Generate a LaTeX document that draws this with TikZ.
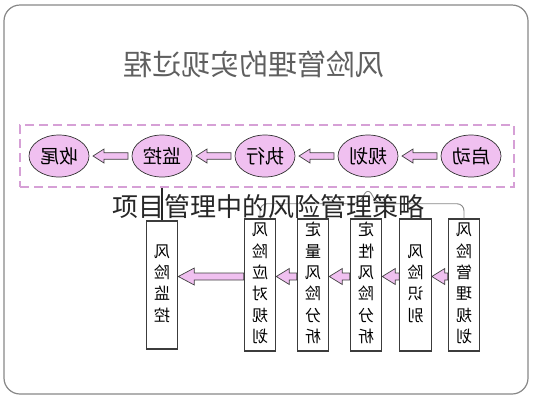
\documentclass[tikz,border=0pt]{standalone}
\usepackage{fontspec}
\newfontfamily\cjk{Noto Sans CJK SC}
\usetikzlibrary{positioning, calc, fit, shapes.geometric}

\definecolor{phasepink}{RGB}{240,192,240}
\definecolor{dashpink}{RGB}{214,160,214}
\definecolor{framegray}{RGB}{135,135,135}
\definecolor{titlegray}{RGB}{95,95,95}
\definecolor{boxgray}{RGB}{60,60,60}

\newcommand{\mir}[1]{\reflectbox{#1}}
\newcommand{\vtext}[1]{\reflectbox{\begin{tabular}{@{}c@{}}#1\end{tabular}}}
% [dy] tail, tip, head length, head half width, shaft half width
\newcommand{\fatarrow}[6][0]{%
  \draw[fatarr] ($(#3)+(0,#1)$) -- ++(#4,#5) |- ($(#2)+(0,#1+#6)$)
    -- ($(#2)+(0,#1-#6)$) -| ($(#3)+(#4,#1-#5)$) -- cycle;
}

\begin{document}
\begin{tikzpicture}[x=1pt, y=1pt, node distance=35pt,
    phase/.style={ellipse, draw=black!80, fill=phasepink, line width=0.7pt,
      minimum width=60pt, minimum height=42pt, inner sep=0pt, outer sep=4pt,
      font=\cjk\fontsize{19}{19}\selectfont},
    dashbox/.style={draw=dashpink, line width=1.5pt, dash pattern=on 9pt off 5pt,
      inner xsep=7pt, inner ysep=6pt},
    riskbox/.style={draw=boxgray, fill=white, line width=1.1pt,
      minimum width=31.5pt, minimum height=132pt, inner sep=0pt,
      font=\cjk\fontsize{16}{21.4}\selectfont},
    fatarr/.style={draw=black!75, fill=phasepink, line width=0.7pt},
    brace/.style={draw=framegray, line width=0.9pt, rounded corners=7pt}]
    \useasboundingbox (0,0) rectangle (533,-400);
    \draw[framegray, line width=1.2pt, rounded corners=16pt] (4,-5) rectangle (528,-394);

    \node[font=\cjk\fontsize{29}{29}\selectfont, text=titlegray] (title) at (254,-64) {\mir{风险管理的实现过程}};

    % project phases
    \node[phase] (qd) at (471,-156) {\mir{启动}};
    \node[phase, left=of qd] (gh) {\mir{规划}};
    \node[phase, left=of gh] (zx) {\mir{执行}};
    \node[phase, left=of zx] (jk) {\mir{监控}};
    \node[phase, left=of jk] (sw) {\mir{收尾}};
    \node[dashbox, fit=(qd)(sw), xshift=2pt] (phases) {};

    \fatarrow{qd.west}{gh.east}{11}{7}{3.3}
    \fatarrow{gh.west}{zx.east}{11}{7}{3.3}
    \fatarrow{zx.west}{jk.east}{11}{7}{3.3}
    \fatarrow{jk.west}{sw.east}{11}{7}{3.3}

    % risk management steps
    \node[riskbox] (gl) at (464,-285) {\vtext{风\\险\\管\\理\\规\\划}};
    \node[riskbox] (sb) at (415.5,-285) {\vtext{风\\险\\识\\别}};
    \node[riskbox] (dx) at (366,-285) {\vtext{定\\性\\风\\险\\分\\析}};
    \node[riskbox] (dl) at (313,-285) {\vtext{定\\量\\风\\险\\分\\析}};
    \node[riskbox] (yd) at (260,-285) {\vtext{风\\险\\应\\对\\规\\划}};
    \node[riskbox, minimum height=128pt] (fj) at (162,-285) {\vtext{风\\险\\监\\控}};

    \fatarrow[8.5]{gl.west}{sb.east}{13}{8}{3.5}
    \fatarrow[8.5]{sb.west}{dx.east}{13}{8}{3.5}
    \fatarrow[8.5]{dx.west}{dl.east}{13}{8}{3.5}
    \fatarrow[8.5]{dl.west}{yd.east}{13}{8}{3.5}
    \fatarrow[8.5]{yd.west}{fj.east}{16}{8.5}{3.5}

    \coordinate (apex) at (gh |- phases.south);
    \draw[brace] (yd.north) |- ($(apex)+(-9,-16)$) -- (apex) -- ($(apex)+(9,-16)$) -| (gl.north);
    \draw[black!85, line width=1.3pt] (jk |- phases.south) -- (jk |- fj.north);

    \node[font=\cjk\fontsize{26}{26}\selectfont, text=black!85] (strategy) at (268,-207) {项目管理中的风险管理策略};
\end{tikzpicture}
\end{document}
